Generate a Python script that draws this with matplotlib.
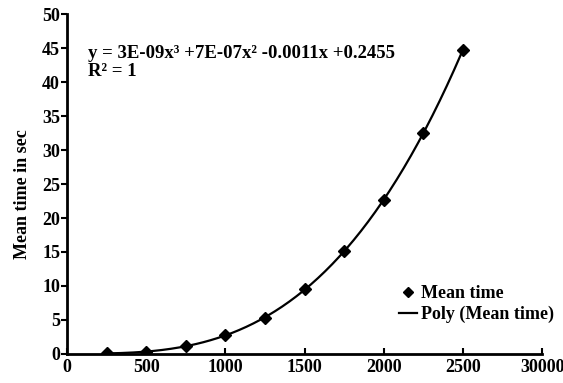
import matplotlib.pyplot as plt
import numpy as np

plt.rcParams['font.family'] = ['Liberation Serif', 'DejaVu Serif']
plt.rcParams['font.weight'] = 'bold'

# Measured data
sizes = [250, 500, 750, 1000, 1250, 1500, 1750, 2000, 2250, 2500]
mean_time = [0.1, 0.3, 1.1, 2.8, 5.3, 9.5, 15.2, 22.6, 32.5, 44.8]

x_ticks = [0, 500, 1000, 1500, 2000, 2500, 3000]
x_tick_labels = ['0', '500', '1000', '1500', '2000', '2500', '30000']
y_ticks = [0, 5, 10, 15, 20, 25, 30, 35, 40, 45, 50]

fig = plt.figure(figsize=(5.63, 3.83), dpi=100)
ax = fig.add_axes([0.119, 0.076, 0.844, 0.887])

# cubic trend line fitted to the points
coef = np.polyfit(sizes, mean_time, 3)
xs = np.linspace(sizes[0], sizes[-1], 200)
ax.plot(xs, np.polyval(coef, xs), color='black', lw=1.6, label='Poly (Mean time)', zorder=2)
ax.plot(sizes, mean_time, 'D', color='black', ms=6.5, label='Mean time', zorder=3)

ax.set_xlim(0, 3000)
ax.set_ylim(0, 50)
ax.set_xticks(x_ticks)
ax.set_xticklabels(x_tick_labels)
ax.set_yticks(y_ticks)
ax.tick_params(axis='x', direction='in', length=4, width=1.5, labelsize=13, pad=4)
ax.tick_params(axis='y', direction='out', length=4, width=1.5, labelsize=13, pad=1)
for s in ['top', 'right']:
    ax.spines[s].set_visible(False)
for s in ['left', 'bottom']:
    ax.spines[s].set_linewidth(2)

ax.set_ylabel('Mean time in sec', fontsize=13, fontweight='bold')
ax.yaxis.set_label_coords(-0.075, 0.47)

ax.text(0.045, 0.885, 'y = 3E-09x³ +7E-07x² -0.0011x +0.2455', transform=ax.transAxes,
        fontsize=13.5, va='center')
ax.text(0.045, 0.83, 'R² = 1', transform=ax.transAxes, fontsize=13.5, va='center')

handles, labels = ax.get_legend_handles_labels()
ax.legend(handles[::-1], labels[::-1], loc='lower right', bbox_to_anchor=(1.04, 0.07),
          frameon=False, handlelength=1.0, handletextpad=0.2, markerscale=0.75,
          labelspacing=0.2, borderaxespad=0, prop={'size': 13, 'weight': 'bold'})

fig.savefig('out.png', dpi=100)
